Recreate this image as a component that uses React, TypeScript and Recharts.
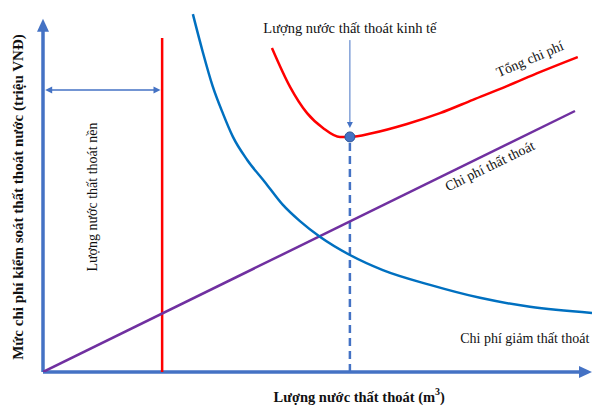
import React from 'react';
import { ComposedChart, Line, XAxis, YAxis, ReferenceLine, ReferenceDot } from 'recharts';

// In arbitrary units (x: 0-100 across, y: 0-100 up)
const reductionCost = [
  { x: 27.3, y: 99.4 }, { x: 29.1, y: 88.9 }, { x: 30.9, y: 79.4 }, { x: 32.8, y: 71.7 },
  { x: 34.6, y: 65.3 }, { x: 37.2, y: 58.9 }, { x: 40.4, y: 52.8 }, { x: 43.7, y: 46.4 },
  { x: 46.8, y: 41.9 }, { x: 50.5, y: 37.5 }, { x: 55.9, y: 32.5 }, { x: 61.9, y: 28.3 },
  { x: 70.5, y: 24.2 }, { x: 79.6, y: 20.6 }, { x: 88.7, y: 18.1 }, { x: 100, y: 16.4 },
];
const lossCost = [{ x: 0, y: 0 }, { x: 96.9, y: 72.5 }];
const totalCost = [
  { x: 41.7, y: 90.0 }, { x: 45.0, y: 79.2 }, { x: 48.1, y: 71.9 }, { x: 51.0, y: 67.8 },
  { x: 54.1, y: 65.3 }, { x: 55.9, y: 65.3 }, { x: 60.1, y: 66.4 }, { x: 66.3, y: 68.9 },
  { x: 72.3, y: 71.9 }, { x: 78.3, y: 75.6 }, { x: 84.5, y: 79.4 }, { x: 90.5, y: 83.3 },
  { x: 97.4, y: 87.5 },
];
const economicPoint = { x: 55.9, y: 65.3 };
const baseLossX = 21.7;
const baseLossTop = 92.8;
const baseArrowY = 78.3;
const yAxisTop = 98.1;

const AXIS_BLUE = '#4472C4';
const FONT = '"Liberation Serif", "Times New Roman", serif';

// line with optional arrow heads at its ends
const arrowShape = (color: string, width: number, head: number, half: number, atStart: boolean, atEnd: boolean, dash?: string) =>
  (p: any) => {
    const { x1, y1, x2, y2 } = p;
    const len = Math.hypot(x2 - x1, y2 - y1) || 1;
    const ux = (x2 - x1) / len, uy = (y2 - y1) / len;
    const nx = -uy, ny = ux;
    const tri = (tx: number, ty: number, dx: number, dy: number) => {
      const bx = tx - dx * head, by = ty - dy * head;
      return `${tx},${ty} ${bx + nx * half},${by + ny * half} ${bx - nx * half},${by - ny * half}`;
    };
    const sx = atStart ? x1 + ux * head * 0.8 : x1, sy = atStart ? y1 + uy * head * 0.8 : y1;
    const ex = atEnd ? x2 - ux * head * 0.8 : x2, ey = atEnd ? y2 - uy * head * 0.8 : y2;
    return (
      <g>
        <line x1={sx} y1={sy} x2={ex} y2={ey} stroke={color} strokeWidth={width} strokeDasharray={dash} />
        {atStart && <polygon points={tri(x1, y1, -ux, -uy)} fill={color} />}
        {atEnd && <polygon points={tri(x2, y2, ux, uy)} fill={color} />}
      </g>
    );
  };

const textShape = (label: React.ReactNode, angle = 0, anchor: 'start' | 'middle' | 'end' = 'middle', bold = false, size = 14) =>
  (p: any) => (
    <text
      x={p.cx}
      y={p.cy}
      transform={angle ? `rotate(${angle} ${p.cx} ${p.cy})` : undefined}
      textAnchor={anchor}
      dominantBaseline="central"
      fontFamily={FONT}
      fontSize={size}
      fontWeight={bold ? 'bold' : 'normal'}
      fill="#111"
    >
      {label}
    </text>
  );

export default function App() {
  return (
    <div style={{ position: 'absolute', left: 0, top: 0, background: '#fff' }}>
      <ComposedChart width={592} height={407} margin={{ top: 12, right: 0, bottom: 35, left: 43 }}>
        <XAxis type="number" dataKey="x" domain={[0, 100]} hide allowDataOverflow />
        <YAxis type="number" dataKey="y" domain={[0, 100]} hide allowDataOverflow />

        <ReferenceLine
          segment={[{ x: 0, y: 0 }, { x: 0, y: yAxisTop }]}
          shape={arrowShape(AXIS_BLUE, 3.5, 13, 6, false, true)}
          ifOverflow="visible"
        />
        <ReferenceLine
          segment={[{ x: 0, y: 0 }, { x: 100, y: 0 }]}
          shape={arrowShape(AXIS_BLUE, 3.5, 13, 6, false, true)}
          ifOverflow="visible"
        />
        <ReferenceLine
          segment={[{ x: baseLossX, y: 0 }, { x: baseLossX, y: baseLossTop }]}
          stroke="#FF0000"
          strokeWidth={2.5}
          ifOverflow="visible"
        />
        <ReferenceLine
          segment={[{ x: 0.4, y: baseArrowY }, { x: baseLossX - 0.3, y: baseArrowY }]}
          shape={arrowShape(AXIS_BLUE, 1.5, 7, 3.5, true, true)}
          ifOverflow="visible"
        />
        <ReferenceLine
          segment={[{ x: economicPoint.x, y: 0 }, { x: economicPoint.x, y: economicPoint.y }]}
          shape={arrowShape(AXIS_BLUE, 2.5, 0, 0, false, false, '8 5')}
          ifOverflow="visible"
        />
        <ReferenceLine
          segment={[{ x: economicPoint.x, y: 92.2 }, { x: economicPoint.x, y: 67.8 }]}
          shape={arrowShape(AXIS_BLUE, 1, 6, 3, false, true)}
          ifOverflow="visible"
        />

        <Line data={lossCost} dataKey="y" type="linear" stroke="#7030A0" strokeWidth={2.5} dot={false} isAnimationActive={false} />
        <Line data={reductionCost} dataKey="y" type="monotone" stroke="#0070C0" strokeWidth={2.5} dot={false} isAnimationActive={false} />
        <Line data={totalCost} dataKey="y" type="monotone" stroke="#FF0000" strokeWidth={2.5} dot={false} isAnimationActive={false} />

        <ReferenceDot x={economicPoint.x} y={economicPoint.y} r={5} fill={AXIS_BLUE} stroke="#2F5597" strokeWidth={1} ifOverflow="visible" />

        <ReferenceDot x={55.9} y={95.6} r={0} ifOverflow="visible" shape={textShape('Lượng nước thất thoát kinh tế', 0, 'middle', false, 14.5)} />
        <ReferenceDot x={88.7} y={86.9} r={0} ifOverflow="visible" shape={textShape('Tổng chi phí', -23)} />
        <ReferenceDot x={81.4} y={57.2} r={0} ifOverflow="visible" shape={textShape('Chi phí thất thoát', -26)} />
        <ReferenceDot x={76.0} y={9.4} r={0} ifOverflow="visible" shape={textShape('Chi phí giảm thất thoát', 0, 'start')} />
        <ReferenceDot x={9.1} y={48.6} r={0} ifOverflow="visible" shape={textShape('Lượng nước thất thoát nền', -90)} />
        <ReferenceDot x={-4.6} y={48.6} r={0} ifOverflow="visible"
          shape={textShape('Mức chi phí kiểm soát thất thoát nước (triệu VNĐ)', -90, 'middle', true, 15)} />
        <ReferenceDot x={57.6} y={-6.9} r={0} ifOverflow="visible"
          shape={textShape(<>Lượng nước thất thoát (m<tspan dy={-6} fontSize={10}>3</tspan><tspan dy={6}>)</tspan></>, 0, 'middle', true, 14.5)} />
      </ComposedChart>
    </div>
  );
}
